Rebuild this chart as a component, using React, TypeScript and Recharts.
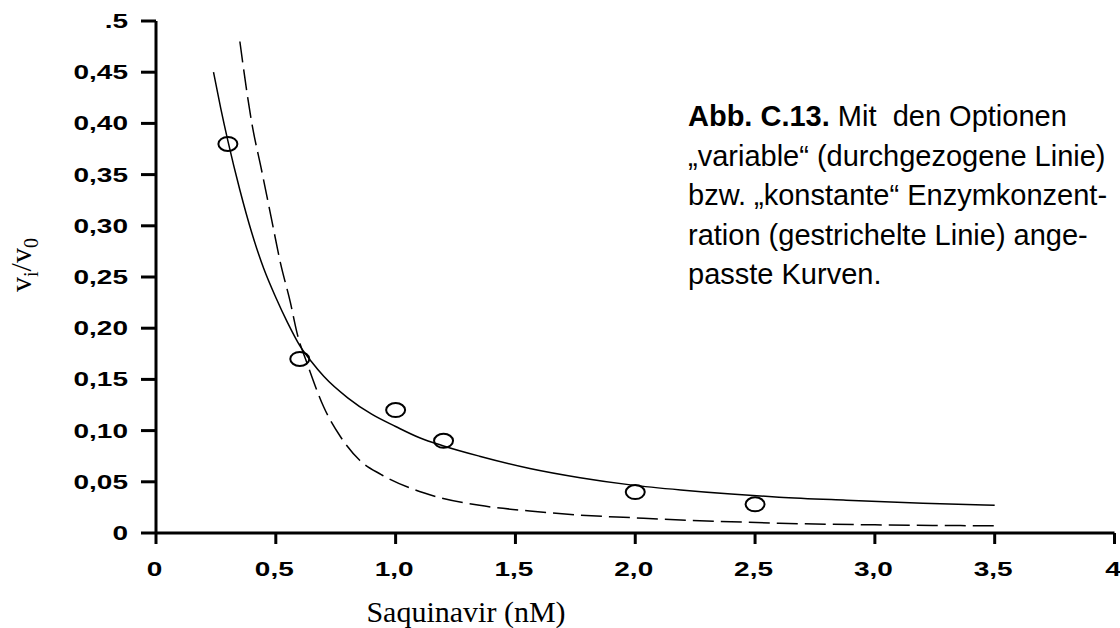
import React from 'react';
import { ComposedChart, Line, Scatter, XAxis, YAxis } from 'recharts';

// ---- data ----
const xTicks = [0, 0.5, 1, 1.5, 2, 2.5, 3, 3.5, 4];
const yTicks = [0, 0.05, 0.1, 0.15, 0.2, 0.25, 0.3, 0.35, 0.4, 0.45, 0.5];

const measuredX = [0.3, 0.6, 1.0, 1.2, 2.0, 2.5];
const measuredY = [0.38, 0.17, 0.12, 0.09, 0.04, 0.028];

// "variable" enzyme concentration fit (solid)
const variableX = [0.24, 0.27, 0.3, 0.35, 0.4, 0.45, 0.5, 0.55, 0.6, 0.65, 0.7, 0.8, 0.9, 1.0, 1.1, 1.2, 1.35, 1.56, 1.77, 1.98, 2.19, 2.4, 2.6, 2.88, 3.2, 3.5];
const variableY = [0.45, 0.415, 0.383, 0.335, 0.293, 0.258, 0.23, 0.205, 0.183, 0.167, 0.153, 0.132, 0.116, 0.104, 0.093, 0.085, 0.075, 0.063, 0.054, 0.047, 0.042, 0.038, 0.035, 0.032, 0.029, 0.027];

// "konstante" enzyme concentration fit (dashed)
const constantX = [0.35, 0.4, 0.44, 0.48, 0.52, 0.56, 0.59, 0.63, 0.7, 0.77, 0.85, 0.94, 1.12, 1.35, 1.56, 1.77, 1.98, 2.19, 2.4, 2.6, 3.0, 3.5];
const constantY = [0.48, 0.4, 0.355, 0.309, 0.263, 0.226, 0.194, 0.166, 0.123, 0.094, 0.071, 0.057, 0.039, 0.027, 0.0215, 0.0175, 0.015, 0.0127, 0.011, 0.0095, 0.008, 0.007];

const captionLines = [
  '„variable“ (durchgezogene Linie)',
  'bzw. „konstante“ Enzymkonzent-',
  'ration (gestrichelte Linie) ange-',
  'passte Kurven.',
];

const measured = measuredX.map((x, i) => ({ x, y: measuredY[i] }));
const variableFit = variableX.map((x, i) => ({ x, y: variableY[i] }));
const constantFit = constantX.map((x, i) => ({ x, y: constantY[i] }));

const SANS = '"Liberation Sans", Arial, Helvetica, sans-serif';
const SERIF = '"Liberation Serif", "Times New Roman", serif';

const fmtX = (v: number) => (v === 0 ? '0' : v === 4 ? '4' : v.toFixed(1).replace('.', ','));
const fmtY = (v: number) => (v === 0 ? '0' : v === 0.5 ? '.5' : v.toFixed(2).replace('.', ','));

const XTick = (props: any) => {
  const { x, y, payload } = props;
  return (
    <text
      transform={`translate(${x - 1.5},${y}) scale(1.4,1)`}
      x={0}
      y={0}
      dy={30}
      textAnchor="middle"
      fontFamily={SANS}
      fontWeight="bold"
      fontSize={20}
      fill="#000"
    >
      {fmtX(payload.value)}
    </text>
  );
};

const YTick = (props: any) => {
  const { x, y, payload } = props;
  return (
    <text
      transform={`translate(${x},${y}) scale(1.4,1)`}
      x={0}
      y={0}
      dy={7}
      textAnchor="end"
      fontFamily={SANS}
      fontWeight="bold"
      fontSize={20}
      fill="#000"
    >
      {fmtY(payload.value)}
    </text>
  );
};

const YTitle = () => (
  <text transform="translate(31,265) rotate(-90)" textAnchor="middle" fontFamily={SERIF} fontSize={30} fill="#000">
    v<tspan fontSize={20} dy={7}>i</tspan>
    <tspan dy={-7}>/v</tspan>
    <tspan fontSize={20} dy={7}>0</tspan>
  </text>
);

const XTitle = () => (
  <text x={466} y={622} textAnchor="middle" fontFamily={SERIF} fontSize={30} fill="#000">
    Saquinavir (nM)
  </text>
);

const Ring = (props: any) => {
  const { cx, cy } = props;
  return <ellipse cx={cx} cy={cy} rx={9.5} ry={7} fill="none" stroke="#000" strokeWidth={2} />;
};

export default function App() {
  return (
    <div style={{ position: 'absolute', left: 0, top: 0, width: 1120, height: 628, background: '#fff' }}>
      <ComposedChart width={1120} height={628} margin={{ top: 21, right: 5.5, left: 0, bottom: 0 }}>
        <XAxis
          type="number"
          dataKey="x"
          domain={[0, 4]}
          ticks={xTicks}
          interval={0}
          height={95}
          tickSize={11}
          axisLine={{ stroke: '#000', strokeWidth: 3 }}
          tickLine={{ stroke: '#000', strokeWidth: 3 }}
          tick={<XTick />}
          label={<XTitle />}
          allowDataOverflow
        />
        <YAxis
          type="number"
          dataKey="y"
          domain={[0, 0.5]}
          ticks={yTicks}
          interval={0}
          width={156}
          tickSize={15}
          tickMargin={13}
          axisLine={{ stroke: '#000', strokeWidth: 3 }}
          tickLine={{ stroke: '#000', strokeWidth: 3 }}
          tick={<YTick />}
          label={<YTitle />}
          allowDataOverflow
        />
        <Line
          data={variableFit}
          dataKey="y"
          type="monotone"
          stroke="#000"
          strokeWidth={1.5}
          dot={false}
          activeDot={false}
          isAnimationActive={false}
        />
        <Line
          data={constantFit}
          dataKey="y"
          type="monotone"
          stroke="#000"
          strokeWidth={1.5}
          strokeDasharray="21 7"
          dot={false}
          activeDot={false}
          isAnimationActive={false}
        />
        <Scatter data={measured} dataKey="y" shape={<Ring />} isAnimationActive={false} />
      </ComposedChart>
      <svg width={1120} height={628} style={{ position: 'absolute', left: 0, top: 0, pointerEvents: 'none' }}>
        <text x={688} y={126} fontFamily={SANS} fontSize={29} fill="#000" style={{ whiteSpace: 'pre' }}>
          <tspan fontWeight="bold">Abb. C.13.</tspan>
          <tspan>{' Mit  den Optionen'}</tspan>
        </text>
        {captionLines.map((line, i) => (
          <text key={i} x={688} y={166 + i * 39.3} fontFamily={SANS} fontSize={29} fill="#000" style={{ whiteSpace: 'pre' }}>
            {line}
          </text>
        ))}
      </svg>
    </div>
  );
}
